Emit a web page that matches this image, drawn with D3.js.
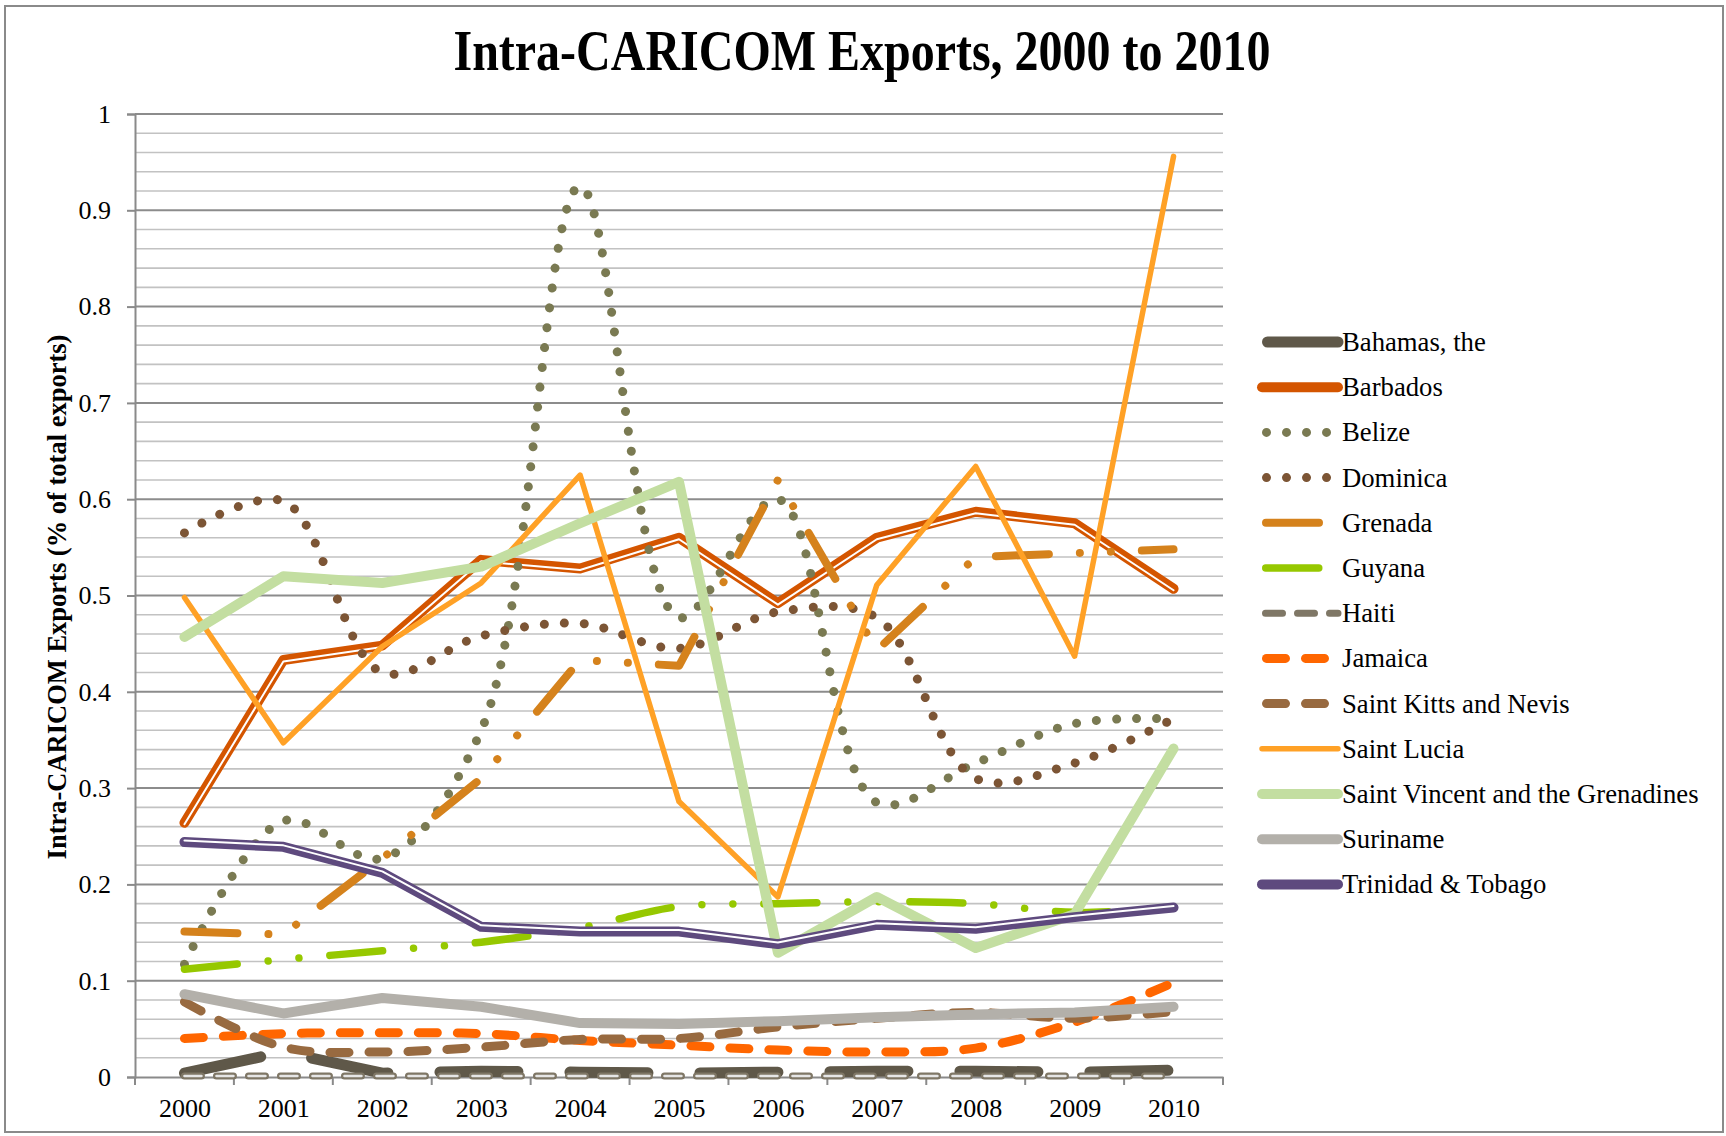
<!DOCTYPE html>
<html>
<head>
<meta charset="utf-8">
<script src="https://cdn.jsdelivr.net/npm/d3@7"></script>
<style>
  body { margin: 0; background: #fff; }
  svg text { font-family: "Liberation Serif", "Times New Roman", serif; fill: #000; }
</style>
</head>
<body>
<svg id="chart" width="1726" height="1136"></svg>
<script>
// Data (share of total exports going to CARICOM)
const years = ['2000', '2001', '2002', '2003', '2004', '2005', '2006', '2007', '2008', '2009', '2010'];
const yTicks = [0, 0.1, 0.2, 0.3, 0.4, 0.5, 0.6, 0.7, 0.8, 0.9, 1];

const bahamas   = [0.004, 0.026, 0.004, 0.006, 0.005, 0.004, 0.005, 0.006, 0.006, 0.005, 0.007];
const barbados  = [0.264, 0.433, 0.448, 0.537, 0.528, 0.560, 0.492, 0.560, 0.587, 0.575, 0.507];
const belize    = [0.117, 0.266, 0.227, 0.360, 0.925, 0.477, 0.600, 0.285, 0.326, 0.367, 0.372];
const dominica  = [0.565, 0.598, 0.420, 0.458, 0.471, 0.445, 0.483, 0.477, 0.310, 0.326, 0.372];
const grenada   = [0.151, 0.148, 0.227, 0.310, 0.433, 0.427, 0.620, 0.443, 0.540, 0.544, 0.548];
const guyana    = [0.112, 0.122, 0.131, 0.140, 0.155, 0.177, 0.180, 0.182, 0.180, 0.171, 0.176];
const haiti     = [0.001, 0.001, 0.001, 0.001, 0.001, 0.001, 0.001, 0.001, 0.001, 0.001, 0.001];
const jamaica   = [0.040, 0.045, 0.046, 0.045, 0.038, 0.033, 0.028, 0.026, 0.030, 0.057, 0.098];
const stKitts   = [0.078, 0.031, 0.026, 0.031, 0.039, 0.040, 0.052, 0.061, 0.067, 0.061, 0.068];
const stLucia   = [0.498, 0.347, 0.447, 0.513, 0.625, 0.286, 0.187, 0.511, 0.634, 0.437, 0.956];
const stVincent = [0.457, 0.520, 0.513, 0.530, 0.575, 0.618, 0.129, 0.187, 0.134, 0.169, 0.341];
const suriname  = [0.086, 0.066, 0.082, 0.073, 0.056, 0.055, 0.058, 0.062, 0.065, 0.067, 0.073];
const trinidad  = [0.244, 0.239, 0.212, 0.156, 0.151, 0.151, 0.138, 0.158, 0.154, 0.166, 0.176];

const names = ['Bahamas, the', 'Barbados', 'Belize', 'Dominica', 'Grenada', 'Guyana', 'Haiti',
  'Jamaica', 'Saint Kitts and Nevis', 'Saint Lucia', 'Saint Vincent and the Grenadines',
  'Suriname', 'Trinidad & Tobago'];
const values = [bahamas, barbados, belize, dominica, grenada, guyana, haiti,
  jamaica, stKitts, stLucia, stVincent, suriname, trinidad];

// line styles, in the same order as names
const dashDotDot = '53,31,0.01,31,0.01,31';
const styles = [
  { color: '#5f5849', width: 11, dash: '78,52' },
  { color: '#d45500', width: 10, stripe: 1.5 },
  { color: '#7a7a52', width: 9, dash: '0.01,20', smooth: true },
  { color: '#7c5535', width: 9, dash: '0.01,20', smooth: true },
  { color: '#d5821c', width: 8, dash: dashDotDot },
  { color: '#96c800', width: 7.5, dash: dashDotDot, smooth: true },
  { color: '#7f7766', width: 7, dash: '17,15', hollow: true },
  { color: '#ff6600', width: 9, dash: '19,20', smooth: true },
  { color: '#986a40', width: 9, dash: '19,20', smooth: true },
  { color: '#ffa126', width: 5.5 },
  { color: '#c3dea1', width: 10 },
  { color: '#b3b0aa', width: 10 },
  { color: '#5e4a7e', width: 10, stripe: -1.5 }
];

const serif = '"Liberation Serif", "Times New Roman", serif';
const series = names.map((name, i) => ({ name, values: values[i], style: styles[i] }));

const svg = d3.select('#chart');

// outer chart border
svg.append('rect')
  .attr('x', 5).attr('y', 6)
  .attr('width', 1718).attr('height', 1126)
  .attr('fill', 'none')
  .attr('stroke', '#8a8a8a')
  .attr('stroke-width', 2);

const plot = { left: 135, right: 1223, top: 114, bottom: 1077 };

const x = d3.scalePoint()
  .domain(years)
  .range([plot.left, plot.right])
  .padding(0.5);

const y = d3.scaleLinear()
  .domain([0, 1])
  .range([plot.bottom, plot.top]);

// gridlines: minor every 0.02, major every 0.1
const minor = d3.range(0.02, 1.001, 0.02).filter(v => Math.abs(v * 10 - Math.round(v * 10)) > 1e-6);
svg.append('g')
  .selectAll('line')
  .data(minor)
  .join('line')
  .attr('x1', plot.left).attr('x2', plot.right)
  .attr('y1', d => y(d)).attr('y2', d => y(d))
  .attr('stroke', '#c2c2c2')
  .attr('stroke-width', 1.6);

svg.append('g')
  .selectAll('line')
  .data(yTicks.slice(1))
  .join('line')
  .attr('x1', plot.left).attr('x2', plot.right)
  .attr('y1', d => y(d)).attr('y2', d => y(d))
  .attr('stroke', '#8c8c8c')
  .attr('stroke-width', 2);

// y axis
const yAxis = svg.append('g')
  .attr('transform', `translate(${plot.left},0)`)
  .call(d3.axisLeft(y).tickValues(yTicks).tickFormat(d3.format('')).tickSize(8).tickPadding(16));
yAxis.attr('font-family', null).attr('font-size', null);
yAxis.select('.domain').attr('stroke', '#8a8a8a').attr('stroke-width', 2);
yAxis.selectAll('.tick line').attr('stroke', '#8a8a8a').attr('stroke-width', 2);
yAxis.selectAll('.tick text')
  .style('font-family', serif)
  .style('font-size', '26px')
  .attr('fill', '#000');

// x axis with ticks between categories
const xAxis = svg.append('g')
  .attr('transform', `translate(0,${plot.bottom})`)
  .call(d3.axisBottom(x).tickSize(0).tickPadding(22));
xAxis.attr('font-family', null).attr('font-size', null);
xAxis.select('.domain').attr('stroke', '#8a8a8a').attr('stroke-width', 2);
xAxis.selectAll('.tick text')
  .style('font-family', serif)
  .style('font-size', '26px')
  .attr('fill', '#000');

const step = x.step();
xAxis.append('g')
  .selectAll('line')
  .data(d3.range(years.length + 1))
  .join('line')
  .attr('x1', i => plot.left + i * step)
  .attr('x2', i => plot.left + i * step)
  .attr('y1', 0).attr('y2', 8)
  .attr('stroke', '#8a8a8a')
  .attr('stroke-width', 2);

// titles
svg.append('text')
  .attr('transform', 'translate(862,70) scale(1,1.2)')
  .attr('text-anchor', 'middle')
  .style('font-size', '48px')
  .attr('font-weight', 'bold')
  .text('Intra-CARICOM Exports, 2000 to 2010');

svg.append('text')
  .attr('transform', 'translate(66,597) rotate(-90)')
  .attr('text-anchor', 'middle')
  .style('font-size', '26.5px')
  .attr('font-weight', 'bold')
  .text('Intra-CARICOM Exports (% of total exports)');

// lines
const straight = d3.line()
  .x((d, i) => x(years[i]))
  .y(d => y(d));
const smooth = d3.line()
  .x((d, i) => x(years[i]))
  .y(d => y(d))
  .curve(d3.curveCatmullRom.alpha(0.5));

const lines = svg.append('g')
  .attr('fill', 'none')
  .attr('stroke-linecap', 'round')
  .attr('stroke-linejoin', 'round');

series.forEach(s => {
  const gen = s.style.smooth ? smooth : straight;
  lines.append('path')
    .attr('d', gen(s.values))
    .attr('stroke', s.style.color)
    .attr('stroke-width', s.style.width)
    .attr('stroke-dasharray', s.style.dash || null);
  if (s.style.stripe) {
    lines.append('path')
      .attr('d', gen(s.values))
      .attr('transform', `translate(0,${s.style.stripe})`)
      .attr('stroke', '#fff')
      .attr('stroke-width', 2);
  }
  if (s.style.hollow) {
    lines.append('path')
      .attr('d', gen(s.values))
      .attr('stroke', '#e6e6e6')
      .attr('stroke-width', 2.5)
      .attr('stroke-dasharray', s.style.dash);
  }
});

// legend
const legend = svg.append('g')
  .attr('transform', 'translate(1262,342)');

const rows = legend.selectAll('g')
  .data(series)
  .join('g')
  .attr('transform', (d, i) => `translate(0,${i * 45.2})`);

rows.append('line')
  .attr('x1', d => d.style.dash ? d.style.width / 2 : 0)
  .attr('x2', 76)
  .attr('y1', 0).attr('y2', 0)
  .attr('stroke', d => d.style.color)
  .attr('stroke-width', d => d.style.width)
  .attr('stroke-linecap', 'round')
  .attr('stroke-dasharray', d => d.style.dash || null);

rows.append('text')
  .attr('x', 80)
  .attr('y', 9)
  .style('font-size', '26.7px')
  .text(d => d.name);
</script>
</body>
</html>
